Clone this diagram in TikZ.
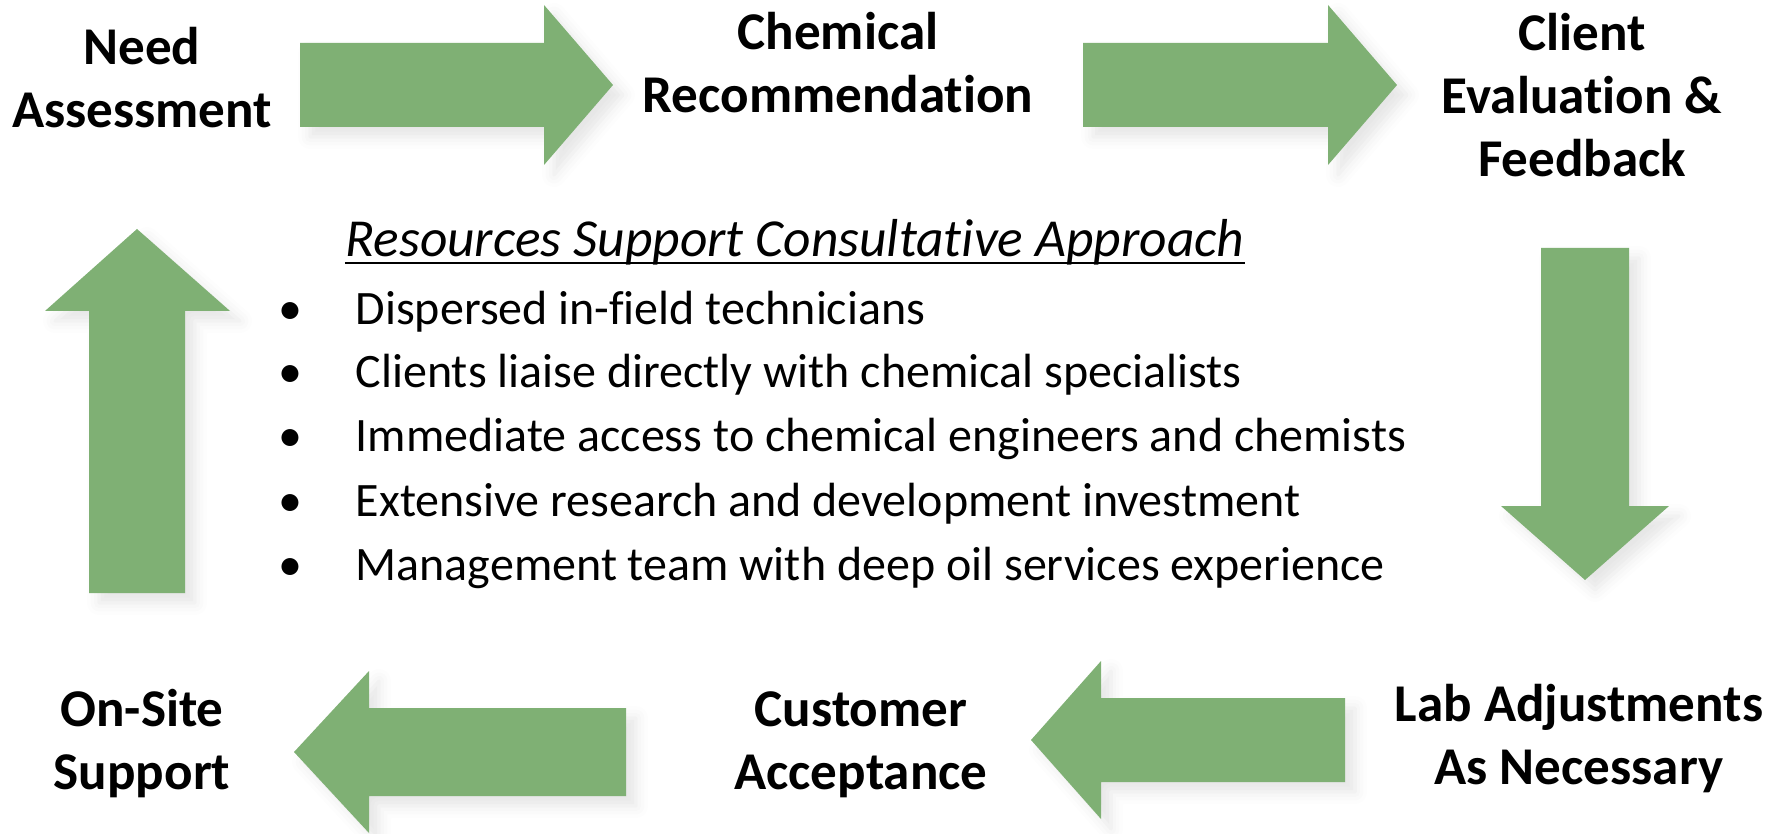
\documentclass[tikz,border=0pt]{standalone}
\usepackage{fontspec}
\setmainfont{Carlito}[Ligatures={NoCommon,NoContextual}]
\usetikzlibrary{shadows.blur}
\definecolor{arrowgreen}{RGB}{127,176,116}
\begin{document}
\begin{tikzpicture}[x=0.01cm,y=-0.01cm,
    stage/.style={align=center,inner sep=0pt,font=\bfseries\fontsize{15.1}{17.9}\selectfont},
    item/.style={anchor=base west,inner sep=0pt,font=\fontsize{13.65}{17.9}\selectfont},
    dot/.style={anchor=base,inner sep=0pt,font=\fontsize{13.65}{17.9}\selectfont},
    flowarrow/.style={fill=arrowgreen,blur shadow={shadow xshift=0.1cm,shadow yshift=-0.1cm,shadow opacity=10,shadow blur radius=0.12cm}}]
      \useasboundingbox (0,0) rectangle (1783,834);

      \node[stage] (N) at (142,78) {Need\\Assessment};
      \node[stage] (C) at (838,63) {Chemical\\Recommendation};
      \node[stage] (E) at (1582,95) {Client\\Evaluation \&\\Feedback};
      \node[stage] (L) at (1579,739) {Lab Adjustments\\As Necessary};
      \node[stage] (A) at (861,745) {Customer\\Acceptance};
      \node[stage] (S) at (142,744) {On-Site\\Support};

      \fill[flowarrow] (300,43) -- (544,43) -- (544,5) -- (613,85) -- (544,165) -- (544,127) -- (300,127) -- cycle;
      \fill[flowarrow] (1083,43) -- (1328,43) -- (1328,5) -- (1397,85) -- (1328,165) -- (1328,127) -- (1083,127) -- cycle;
      \fill[flowarrow] (1541,248) -- (1629,248) -- (1629,506) -- (1669,506) -- (1585,580) -- (1501,506) -- (1541,506) -- cycle;
      \fill[flowarrow] (1345,698) -- (1101,698) -- (1101,661) -- (1031,740) -- (1101,819) -- (1101,782) -- (1345,782) -- cycle;
      \fill[flowarrow] (626,708) -- (369,708) -- (369,671) -- (294,752) -- (369,833) -- (369,796) -- (626,796) -- cycle;
      \fill[flowarrow] (89,593) -- (89,311) -- (45,311) -- (137,229) -- (230,311) -- (185,311) -- (185,593) -- cycle;

      \node[dot,font=\itshape\fontsize{15.2}{17.9}\selectfont] (H) at (795,257) {Resources Support Consultative Approach};
      \draw[line width=0.6pt] ([yshift=-0.06cm]H.base west) -- ([yshift=-0.06cm]H.base east);

      \node[dot] (D1) at (290,325) {•};
      \node[dot] (D2) at (290,388) {•};
      \node[dot] (D3) at (290,452) {•};
      \node[dot] (D4) at (290,516) {•};
      \node[dot] (D5) at (290,580) {•};

      \node[item] (I1) at (355,325) {Dispersed in-field technicians};
      \node[item] (I2) at (355,388) {Clients liaise directly with chemical specialists};
      \node[item] (I3) at (355,452) {Immediate access to chemical engineers and chemists};
      \node[item] (I4) at (355,516) {Extensive research and development investment};
      \node[item] (I5) at (355,580) {Management team with deep oil services experience};
  \end{tikzpicture}
\end{document}
